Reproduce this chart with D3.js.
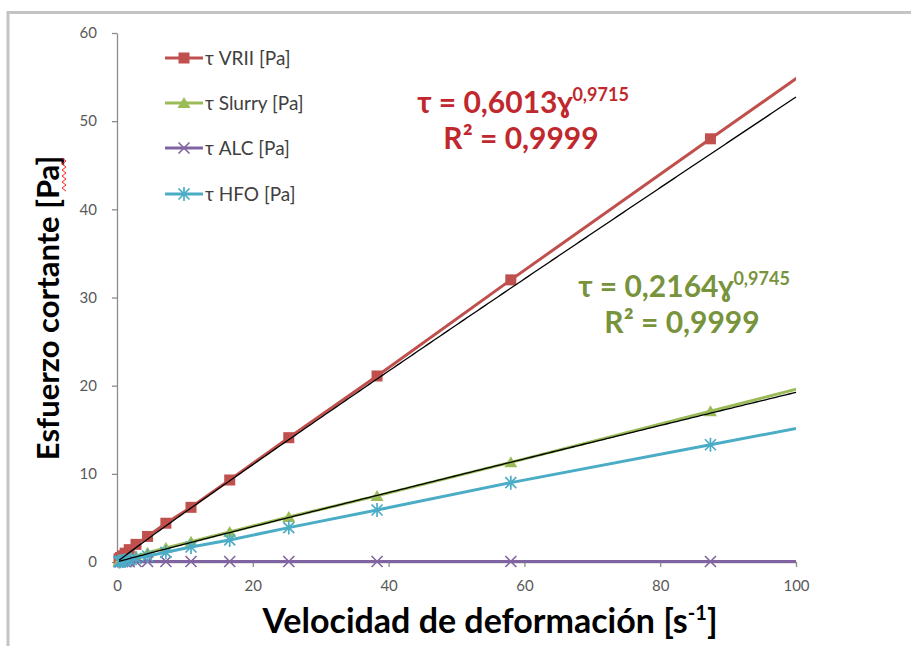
<!DOCTYPE html>
<html>
<head>
<meta charset="utf-8">
<script src="https://cdn.jsdelivr.net/npm/d3@7"></script>
<style>
  html, body { margin: 0; padding: 0; background: #ffffff; overflow: hidden; }
  svg { display: block; }
</style>
</head>
<body>
<svg id="chart" width="911" height="646"></svg>
<script>
// Shear rate [s-1] at each measurement step
const shearRate = [0.3, 0.5, 0.8, 1.2, 1.8, 2.8, 4.5, 7.2, 10.9, 16.6, 25.3, 38.3, 58.0, 87.4, 131.0];

// Shear stress [Pa] per fluid
const tauVRII   = [0.35, 0.5, 0.7, 1.0, 1.4, 2.0, 2.9, 4.4, 6.2, 9.3, 14.1, 21.1, 32.0, 48.0, 71.6];
const tauSlurry = [0.08, 0.12, 0.2, 0.3, 0.45, 0.65, 1.05, 1.6, 2.3, 3.4, 5.1, 7.5, 11.3, 17.1, 25.7];
const tauALC    = [0.03, 0.03, 0.03, 0.04, 0.04, 0.05, 0.05, 0.05, 0.05, 0.05, 0.05, 0.05, 0.05, 0.05, 0.05];
const tauHFO    = [0.05, 0.08, 0.12, 0.18, 0.28, 0.42, 0.68, 1.1, 1.7, 2.5, 3.9, 5.9, 9.0, 13.3, 19.7];

const seriesNames = ["τ VRII [Pa]", "τ Slurry [Pa]", "τ ALC [Pa]", "τ HFO [Pa]"];

// Power-law fits (τ = k·γ^n)
const fitVRII   = { k: 0.6013, n: 0.9715, label: "0,6013", exp: "0,9715", r2: "0,9999" };
const fitSlurry = { k: 0.2164, n: 0.9745, label: "0,2164", exp: "0,9745", r2: "0,9999" };

const xTicks = [0, 20, 40, 60, 80, 100];
const yTicks = [0, 10, 20, 30, 40, 50, 60];

const FONT = "Lato, 'Open Sans', sans-serif";
const svg = d3.select("#chart");

// Outer frame (its right and bottom edges lie beyond the view)
svg.append("rect")
  .attr("x", 8).attr("y", 12.5).attr("width", 1000).attr("height", 1000)
  .attr("fill", "none").attr("stroke", "#c4c4c4").attr("stroke-width", 3);

const x = d3.scaleLinear().domain([0, 100]).range([117, 796]);
const y = d3.scaleLinear().domain([0, 60]).range([562, 33]);

// Axes
const xAxis = svg.append("g").attr("transform", `translate(0,${y(0)})`)
  .call(d3.axisBottom(x).tickValues(xTicks).tickSize(5).tickPadding(13).tickSizeOuter(0));
const yAxis = svg.append("g").attr("transform", `translate(${x(0)},0)`)
  .call(d3.axisLeft(y).tickValues(yTicks).tickSize(5).tickPadding(15).tickSizeOuter(0));
[xAxis, yAxis].forEach(g => {
  g.select(".domain").attr("stroke", "#8c8c8c").attr("stroke-width", 1.3);
  g.selectAll(".tick line").attr("stroke", "#8c8c8c").attr("stroke-width", 1.3);
  g.selectAll(".tick text").attr("fill", "#595959").style("font-family", FONT).style("font-size", "15px");
});

// Clip lines at the right end of the x range
svg.append("clipPath").attr("id", "plotClip")
  .append("rect").attr("x", 0).attr("y", 0).attr("width", x(100)).attr("height", 646);

const series = [
  { name: seriesNames[0], values: tauVRII,   color: "#c0504d", marker: "square" },
  { name: seriesNames[1], values: tauSlurry, color: "#9bbb59", marker: "triangle" },
  { name: seriesNames[2], values: tauALC,    color: "#8064a2", marker: "x" },
  { name: seriesNames[3], values: tauHFO,    color: "#4bacc6", marker: "star" }
];

const line = d3.line().x(d => x(d[0])).y(d => y(d[1]));

function drawMarker(g, type, color) {
  if (type === "square") {
    g.append("rect").attr("x", -5.5).attr("y", -5.5).attr("width", 11).attr("height", 11).attr("fill", color);
  } else if (type === "triangle") {
    g.append("path").attr("d", "M0,-6L6.5,5L-6.5,5Z").attr("fill", color);
  } else if (type === "x") {
    g.append("path").attr("d", "M-5.5,-5.5L5.5,5.5M-5.5,5.5L5.5,-5.5").attr("stroke", color).attr("stroke-width", 1.6).attr("fill", "none");
  } else if (type === "star") {
    g.append("path").attr("d", "M-5.5,-5.5L5.5,5.5M-5.5,5.5L5.5,-5.5M0,-7L0,7").attr("stroke", color).attr("stroke-width", 1.7).attr("fill", "none");
  }
}

const plot = svg.append("g");
series.forEach(s => {
  const pts = shearRate.map((v, i) => [v, s.values[i]]);
  plot.append("path").datum(pts)
    .attr("d", line).attr("fill", "none").attr("stroke", s.color)
    .attr("stroke-width", 3).attr("stroke-linejoin", "round")
    .attr("clip-path", "url(#plotClip)");
  pts.filter(p => p[0] <= 100).forEach(p => {
    const g = plot.append("g").attr("transform", `translate(${x(p[0])},${y(p[1])})`);
    drawMarker(g, s.marker, s.color);
  });
});

// Power-law trendlines
[fitVRII, fitSlurry].forEach(f => {
  const xs = d3.range(0, 201).map(i => shearRate[0] + (100 - shearRate[0]) * i / 200);
  const pts = xs.map(v => [v, f.k * Math.pow(v, f.n)]);
  plot.append("path").datum(pts)
    .attr("d", line).attr("fill", "none").attr("stroke", "#000000").attr("stroke-width", 1.3);
});

// Legend
const legendRows = [58, 103, 148, 194];
series.forEach((s, i) => {
  const g = svg.append("g").attr("transform", `translate(0,${legendRows[i]})`);
  g.append("line").attr("x1", 165).attr("x2", 203).attr("y1", 0).attr("y2", 0)
    .attr("stroke", s.color).attr("stroke-width", 3);
  const m = g.append("g").attr("transform", "translate(184,0)");
  drawMarker(m, s.marker, s.color);
  g.append("text").attr("x", 205).attr("y", 0).attr("dy", "0.35em")
    .attr("fill", "#404040").style("font-family", FONT).style("font-size", "19px")
    .text(s.name);
});

// Equation labels
function equation(f, cx, y1, y2, color) {
  const t1 = svg.append("text").attr("x", cx).attr("y", y1).attr("text-anchor", "middle")
    .attr("fill", color).style("font-family", FONT).style("font-weight", "bold").style("font-size", "30px");
  t1.append("tspan").text(`τ = ${f.label}ɣ`);
  t1.append("tspan").attr("dy", -12).style("font-size", "18px").text(f.exp);
  svg.append("text").attr("x", cx - 2).attr("y", y2).attr("text-anchor", "middle")
    .attr("fill", color).style("font-family", FONT).style("font-weight", "bold").style("font-size", "30px")
    .text(`R² = ${f.r2}`);
}
equation(fitVRII, 523, 113, 149, "#c0282d");
equation(fitSlurry, 684, 297, 333, "#77933c");

// Axis titles
const xt = svg.append("text").attr("x", 490).attr("y", 633).attr("text-anchor", "middle")
  .attr("fill", "#000000").style("font-family", FONT).style("font-weight", "bold").style("font-size", "34px");
xt.append("tspan").text("Velocidad de deformación [s");
xt.append("tspan").attr("dy", -13).style("font-size", "20px").text("-1");
xt.append("tspan").attr("dy", 13).text("]");

svg.append("text").attr("transform", "translate(59,308) rotate(-90)").attr("text-anchor", "middle")
  .attr("fill", "#000000").style("font-family", FONT).style("font-weight", "bold").style("font-size", "31px")
  .text("Esfuerzo cortante [Pa]");

// Spell-check squiggle under "Pa"
const sq = d3.range(0, 12).map(i => [i % 2 === 0 ? 62 : 66, 158 + i * 3]);
svg.append("path").attr("d", d3.line()(sq)).attr("fill", "none").attr("stroke", "#ff2020").attr("stroke-width", 1);
</script>
</body>
</html>
